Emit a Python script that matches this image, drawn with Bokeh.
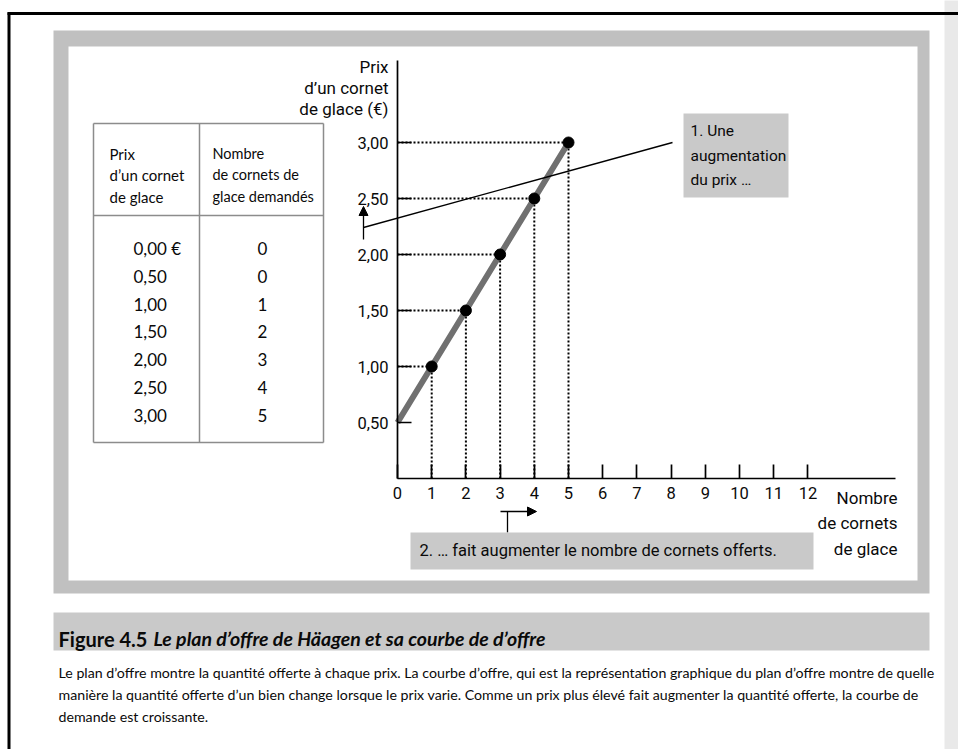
from bokeh.plotting import figure
from bokeh.models import LinearAxis, FixedTicker, Arrow, NormalHead, Range1d
from bokeh.core.properties import value
from bokeh.embed import file_html
from bokeh.resources import INLINE

# ---------------- data ----------------
prices = [0.0, 0.5, 1.0, 1.5, 2.0, 2.5, 3.0]
quantities = [0, 0, 1, 2, 3, 4, 5]
price_labels = ["0,00 €", "0,50", "1,00", "1,50", "2,00", "2,50", "3,00"]
quantity_labels = ["0", "0", "1", "2", "3", "4", "5"]
y_ticks = [0.5, 1.0, 1.5, 2.0, 2.5, 3.0]
y_tick_labels = ["0,50", "1,00", "1,50", "2,00", "2,50", "3,00"]
x_ticks = [0, 1, 2, 3, 4, 5, 6, 7, 8, 9, 10, 11, 12]
x_tick_labels = [str(t) for t in x_ticks]

head1 = ["Prix", "d’un cornet", "de glace"]
head2 = ["Nombre", "de cornets de", "glace demandés"]
y_title = ["Prix", "d’un cornet", "de glace (€)"]
x_title = ["Nombre", "de cornets", "de glace"]
note1 = ["1. Une", "augmentation", "du prix …"]
note2 = "2. … fait augmenter le nombre de cornets offerts."
fig_no = "Figure 4.5"
fig_title = "Le plan d’offre de Häagen et sa courbe de d’offre"
body = [
    "Le plan d’offre montre la quantité offerte à chaque prix. La courbe d’offre, qui est la représentation graphique du plan d’offre montre de quelle",
    "manière la quantité offerte d’un bien change lorsque le prix varie. Comme un prix plus élevé fait augmenter la quantité offerte, la courbe de",
    "demande est croissante.",
]

# ---------------- layout (page pixels -> chart units) ----------------
W, H = 958, 749
X0, Y0 = 397.0, 478.0      # origin of the chart on the page
SX, SY = 34.2, 112.0       # px per cornet, px per euro


def dx(X):
    return (X - X0) / SX


def dy(Y):
    return (Y0 - Y) / SY


CHART_FONT = value("Roboto")
BOOK_FONT = value("Lato")
GRAY = "#c0c0c0"
BOXGRAY = "#c9c9c9"
INK = "#0a0a0a"

p = figure(width=W, height=H, output_backend="svg", toolbar_location=None,
           x_axis_type=None, y_axis_type=None,
           x_range=Range1d(dx(0), dx(W)), y_range=Range1d(dy(H), dy(0)),
           min_border=0, min_border_left=0, min_border_right=0,
           min_border_top=0, min_border_bottom=0)
p.outline_line_color = None
p.xgrid.visible = False
p.ygrid.visible = False
p.background_fill_color = "white"
p.border_fill_color = "white"

# page edge shading and frame
p.quad(left=[dx(944)], right=[dx(960)], top=[dy(-5)], bottom=[dy(760)], fill_color="#e9e9e9", line_color=None)
p.segment(x0=[dx(7), dx(8.5)], y0=[dy(13), dy(12)], x1=[dx(960), dx(8.5)], y1=[dy(13), dy(760)],
          line_color="black", line_width=3)

# gray panel
p.quad(left=[dx(53)], right=[dx(929)], top=[dy(30)], bottom=[dy(593)], fill_color=GRAY, line_color=None)
p.quad(left=[dx(68)], right=[dx(917)], top=[dy(46)], bottom=[dy(580)], fill_color="white", line_color=None)
# caption band
p.quad(left=[dx(53)], right=[dx(929)], top=[dy(612)], bottom=[dy(650)], fill_color=BOXGRAY, line_color=None)

# ---------------- table ----------------
TL, TR, TT, TB, TD, TH = 93, 323, 123, 442, 199, 215
p.segment(x0=[dx(TL), dx(TL), dx(TL), dx(TR), dx(TD), dx(TL)],
          y0=[dy(TT), dy(TB), dy(TT), dy(TT), dy(TT), dy(TH)],
          x1=[dx(TR), dx(TR), dx(TL), dx(TR), dx(TD), dx(TR)],
          y1=[dy(TT), dy(TB), dy(TB), dy(TB), dy(TB), dy(TH)],
          line_color="#8c8c8c", line_width=1.5)
hy = [153, 174, 196]
p.text(x=[dx(109)] * 3, y=[dy(v) for v in hy], text=head1, text_font=BOOK_FONT,
       text_font_size="15px", text_baseline="middle", text_align="left", text_color=INK)
p.text(x=[dx(212)] * 3, y=[dy(v) for v in hy], text=head2, text_font=BOOK_FONT,
       text_font_size="14.5px", text_baseline="middle", text_align="left", text_color=INK)
row_y = [dy(248 + 27.8 * i) for i in range(len(prices))]
p.text(x=[dx(133)] * len(prices), y=row_y, text=price_labels, text_font=BOOK_FONT,
       text_font_size="17px", text_baseline="middle", text_align="left", text_color=INK)
p.text(x=[dx(262)] * len(prices), y=row_y, text=quantity_labels, text_font=BOOK_FONT,
       text_font_size="17px", text_baseline="middle", text_align="center", text_color=INK)

# ---------------- chart ----------------
xaxis = LinearAxis(fixed_location=0, bounds=(0, dx(895)), ticker=FixedTicker(ticks=x_ticks),
                   major_label_overrides={t: s for t, s in zip(x_ticks, x_tick_labels)})
yaxis = LinearAxis(fixed_location=0, bounds=(0, dy(60)), ticker=FixedTicker(ticks=y_ticks),
                   major_label_overrides={t: s for t, s in zip(y_ticks, y_tick_labels)})
for ax in (xaxis, yaxis):
    ax.axis_line_width = 1.7
    ax.axis_line_color = "black"
    ax.major_tick_line_width = 1.7
    ax.major_tick_line_color = "black"
    ax.major_tick_in = 14
    ax.major_tick_out = 0
    ax.minor_tick_line_color = None
    ax.major_label_text_font = "Roboto"
    ax.major_label_text_font_size = "16.5px"
    ax.major_label_text_color = INK
xaxis.major_label_standoff = 8
yaxis.major_label_standoff = 9
p.add_layout(xaxis, "below")
p.add_layout(yaxis, "left")

# supply schedule points
sq = [q for q, pr in zip(quantities, prices) if q > 0]
sp = [pr for q, pr in zip(quantities, prices) if q > 0]
# guide lines
p.segment(x0=[0] * len(sq), y0=sp, x1=sq, y1=sp, line_color="black", line_width=2, line_dash="2 2")
p.segment(x0=sq, y0=[0] * len(sq), x1=sq, y1=sp, line_color="black", line_width=2, line_dash="2 2")
# supply curve
lq = [q for q, pr in zip(quantities, prices) if pr >= 0.5]
lp = [pr for q, pr in zip(quantities, prices) if pr >= 0.5]
p.line(lq, lp, line_color="#707070", line_width=6)
p.scatter(sq, sp, size=11, fill_color="black", line_color="black")

# axis titles
p.text(x=[dx(388)] * 3, y=[dy(v) for v in (66, 87, 108)], text=y_title, text_font=CHART_FONT,
       text_font_size="17px", text_baseline="middle", text_align="right", text_color=INK)
p.text(x=[dx(897)] * 3, y=[dy(v) for v in (497, 522, 548)], text=x_title, text_font=CHART_FONT,
       text_font_size="17px", text_baseline="middle", text_align="right", text_color=INK)

# annotation 1
p.line([dx(363), dx(672)], [dy(227), dy(142)], line_color="black", line_width=1.3)
p.add_layout(Arrow(end=NormalHead(size=9, fill_color="black", line_color="black"),
                   x_start=dx(363), y_start=dy(239), x_end=dx(363), y_end=dy(206),
                   line_width=1.3, line_color="black"))
p.quad(left=[dx(683)], right=[dx(788)], top=[dy(113)], bottom=[dy(197)], fill_color=BOXGRAY, line_color=None)
p.text(x=[dx(690)] * 3, y=[dy(v) for v in (130, 155, 179)], text=note1, text_font=CHART_FONT,
       text_font_size="15.5px", text_baseline="middle", text_align="left", text_color=INK)

# annotation 2
p.add_layout(Arrow(end=NormalHead(size=9, fill_color="black", line_color="black"),
                   x_start=dx(500), y_start=dy(511), x_end=dx(536), y_end=dy(511),
                   line_width=1.3, line_color="black"))
p.line([dx(507), dx(507)], [dy(511), dy(532)], line_color="black", line_width=1.3)
p.quad(left=[dx(410)], right=[dx(813)], top=[dy(532)], bottom=[dy(569)], fill_color=BOXGRAY, line_color=None)
p.text(x=[dx(419)], y=[dy(550)], text=[note2], text_font=CHART_FONT,
       text_font_size="16.5px", text_baseline="middle", text_align="left", text_color=INK)

# caption
p.text(x=[dx(58)], y=[dy(638)], text=[fig_no], text_font=BOOK_FONT, text_font_style="bold",
       text_font_size="20px", text_baseline="middle", text_align="left", text_color=INK)
p.text(x=[dx(153)], y=[dy(638)], text=[fig_title], text_font=BOOK_FONT, text_font_style="bold italic",
       text_font_size="19.5px", text_baseline="middle", text_align="left", text_color=INK)
p.text(x=[dx(58)] * 3, y=[dy(v) for v in (672, 694, 716)], text=body, text_font=BOOK_FONT,
       text_font_size="14.2px", text_baseline="middle", text_align="left", text_color=INK)

open("out.html", "w").write(file_html(p, INLINE))
